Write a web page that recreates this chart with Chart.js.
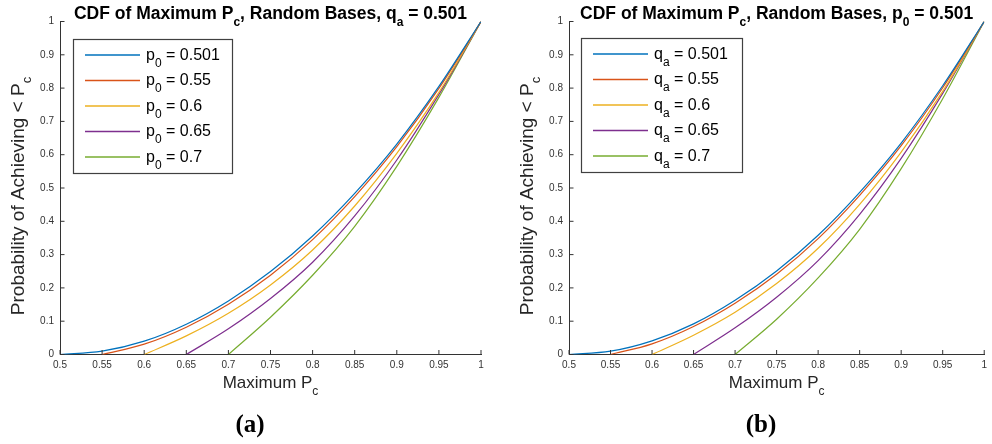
<!DOCTYPE html>
<html>
<head>
<meta charset="utf-8">
<script src="https://cdn.jsdelivr.net/npm/chart.js@4.4.1/dist/chart.umd.min.js"></script>
<style>
  html, body { margin: 0; padding: 0; background: #fff; }
  #wrap { position: relative; width: 992px; height: 444px; }
  canvas { position: absolute; top: 0; }
</style>
</head>
<body>
<div id="wrap">
  <canvas id="chartA" width="496" height="444" style="left:0px"></canvas>
  <canvas id="chartB" width="483" height="444" style="left:509px"></canvas>
</div>
<script>
// x values (Maximum Pc)
const maxPc = [0.5, 0.55, 0.6, 0.65, 0.7, 0.75, 0.8, 0.85, 0.9, 0.95, 1];
const xTickLabels = ['0.5', '0.55', '0.6', '0.65', '0.7', '0.75', '0.8', '0.85', '0.9', '0.95', '1'];
const yTickLabels = ['0', '0.1', '0.2', '0.3', '0.4', '0.5', '0.6', '0.7', '0.8', '0.9', '1'];

// (a) varying p0, qa = 0.501
const p0Names = ['0.501', '0.55', '0.6', '0.65', '0.7'];
const p0_0501 = [0, 0.010, 0.040, 0.091, 0.161, 0.249, 0.356, 0.484, 0.632, 0.805, 1];
const p0_055  = [null, 0, 0.031, 0.082, 0.151, 0.238, 0.345, 0.474, 0.624, 0.799, 1];
const p0_06   = [null, null, 0, 0.056, 0.124, 0.209, 0.314, 0.446, 0.604, 0.787, 1];
const p0_065  = [null, null, null, 0, 0.077, 0.168, 0.277, 0.416, 0.584, 0.781, 1];
const p0_07   = [null, null, null, null, 0, 0.112, 0.238, 0.385, 0.565, 0.772, 1];

// (b) varying qa, p0 = 0.501
const qaNames = ['0.501', '0.55', '0.6', '0.65', '0.7'];
const qa_0501 = [0, 0.010, 0.041, 0.092, 0.163, 0.251, 0.358, 0.487, 0.635, 0.807, 1];
const qa_055  = [null, 0, 0.032, 0.084, 0.154, 0.241, 0.348, 0.478, 0.627, 0.801, 1];
const qa_06   = [null, null, 0, 0.058, 0.127, 0.213, 0.319, 0.451, 0.608, 0.790, 1];
const qa_065  = [null, null, null, 0, 0.080, 0.172, 0.282, 0.421, 0.589, 0.784, 1];
const qa_07   = [null, null, null, null, 0, 0.106, 0.230, 0.376, 0.558, 0.768, 1];

const colors = ['#0072BD', '#D95319', '#EDB120', '#7E2F8E', '#77AC30'];

const SANS = '"Liberation Sans", Arial, Helvetica, sans-serif';
const SERIF = '"Liberation Serif", "Times New Roman", serif';

// alternating [normal, subscript, normal, ...]
function richText(ctx, parts, x, y, font, subFont, subDy, align) {
  let w = 0;
  parts.forEach((t, i) => { ctx.font = i % 2 ? subFont : font; w += ctx.measureText(t).width; });
  let cx = align === 'center' ? x - w / 2 : x;
  parts.forEach((t, i) => {
    ctx.font = i % 2 ? subFont : font;
    ctx.fillText(t, cx, y + (i % 2 ? subDy : 0));
    cx += ctx.measureText(t).width;
  });
}

const decorPlugin = {
  id: 'decor',
  afterDraw(chart) {
    const o = chart.options.plugins.decor;
    const ctx = chart.ctx, a = chart.chartArea;
    const xs = chart.scales.x, ys = chart.scales.y;
    ctx.save();
    // inward ticks
    ctx.strokeStyle = '#333';
    ctx.lineWidth = 1;
    ctx.beginPath();
    xs.ticks.forEach(t => {
      const px = xs.getPixelForValue(t.value);
      ctx.moveTo(px, a.bottom); ctx.lineTo(px, a.bottom - 4.5);
    });
    ys.ticks.forEach(t => {
      const py = ys.getPixelForValue(t.value);
      ctx.moveTo(a.left, py); ctx.lineTo(a.left + 4.5, py);
    });
    ctx.stroke();

    ctx.textAlign = 'left';
    ctx.textBaseline = 'alphabetic';
    // title
    ctx.fillStyle = '#000';
    richText(ctx, o.title, (a.left + a.right) / 2, 19,
      'bold 17.5px ' + SANS, 'bold 12px ' + SANS, 7, 'center');
    // x axis label
    ctx.fillStyle = '#262626';
    richText(ctx, ['Maximum P', 'c'], (a.left + a.right) / 2, 388,
      '17px ' + SANS, '12px ' + SANS, 7, 'center');
    // y axis label
    ctx.save();
    ctx.translate(a.left - 36, 196);
    ctx.rotate(-Math.PI / 2);
    richText(ctx, ['Probability of Achieving < P', 'c'], 0, 0,
      '19px ' + SANS, '13px ' + SANS, 7, 'center');
    ctx.restore();

    // legend
    const lg = o.legend;
    ctx.fillStyle = '#fff';
    ctx.fillRect(lg.x, lg.y, lg.w, lg.h);
    ctx.strokeStyle = '#404040';
    ctx.lineWidth = 1.2;
    ctx.strokeRect(lg.x + 0.5, lg.y + 0.5, lg.w, lg.h);
    chart.data.datasets.forEach((ds, i) => {
      const ry = lg.y + 16 + i * 25.5;
      ctx.strokeStyle = ds.borderColor;
      ctx.lineWidth = 1.3;
      ctx.beginPath();
      ctx.moveTo(lg.x + 12, ry); ctx.lineTo(lg.x + 67, ry);
      ctx.stroke();
      ctx.fillStyle = '#000';
      richText(ctx, [lg.sym, lg.sub, ' = ' + lg.names[i]], lg.x + 73, ry + 4.5,
        '16px ' + SANS, '12px ' + SANS, 7, 'left');
    });

    // caption
    ctx.fillStyle = '#000';
    ctx.font = 'bold 25px ' + SERIF;
    ctx.textAlign = 'center';
    ctx.fillText(o.caption, o.captionX, 432);
    ctx.restore();
  }
};

function makeChart(id, series, names, padRight, title, legend, caption, captionX) {
  const datasets = series.map((ys, i) => ({
    label: names[i],
    data: maxPc.map((x, j) => ({ x: x, y: ys[j] })),
    borderColor: colors[i],
    borderWidth: 1.2,
    pointRadius: 0,
    fill: false,
    cubicInterpolationMode: 'monotone'
  }));
  return new Chart(document.getElementById(id), {
    type: 'line',
    data: { datasets: datasets },
    options: {
      responsive: false,
      animation: false,
      devicePixelRatio: 1,
      layout: { padding: { left: 0, right: padRight, top: 21.5, bottom: 0 } },
      plugins: {
        legend: { display: false },
        title: { display: false },
        tooltip: { enabled: false },
        decor: { title: title, legend: legend, caption: caption, captionX: captionX }
      },
      scales: {
        x: {
          type: 'linear', min: 0.5, max: 1,
          afterFit: s => { s.height = 89.5; },
          grid: { display: false, drawTicks: false },
          border: { display: true, color: '#333', width: 1 },
          ticks: {
            stepSize: 0.05, padding: 5, color: '#333', maxRotation: 0, autoSkip: false,
            font: { family: SANS, size: 10 },
            callback: (v, i) => xTickLabels[i]
          }
        },
        y: {
          min: 0, max: 1,
          afterFit: s => { s.width = 60; },
          grid: { display: false, drawTicks: false },
          border: { display: true, color: '#333', width: 1 },
          ticks: {
            stepSize: 0.1, padding: 6, color: '#333', autoSkip: false,
            font: { family: SANS, size: 10 },
            callback: (v, i) => yTickLabels[i]
          }
        }
      }
    },
    plugins: [decorPlugin]
  });
}

makeChart('chartA', [p0_0501, p0_055, p0_06, p0_065, p0_07], p0Names, 15,
  ['CDF of Maximum P', 'c', ', Random Bases, q', 'a', ' = 0.501'],
  { x: 73, y: 39, w: 159, h: 134, sym: 'p', sub: '0', names: p0Names },
  '(a)', 250);

makeChart('chartB', [qa_0501, qa_055, qa_06, qa_065, qa_07], qaNames, 3,
  ['CDF of Maximum P', 'c', ', Random Bases, p', '0', ' = 0.501'],
  { x: 72, y: 38, w: 161, h: 134, sym: 'q', sub: 'a', names: qaNames },
  '(b)', 252);
</script>
</body>
</html>
